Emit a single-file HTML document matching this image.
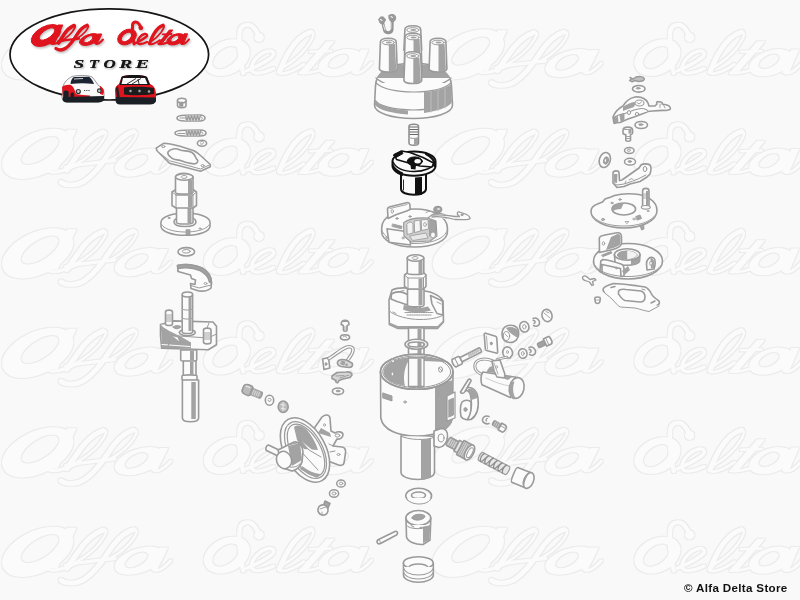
<!DOCTYPE html>
<html><head><meta charset="utf-8">
<style>
html,body{margin:0;padding:0;}
body{width:800px;height:600px;overflow:hidden;background:#f9f9f9;position:relative;font-family:"Liberation Sans",sans-serif;}
svg{position:absolute;left:0;top:0;}
.sh{fill:#a3a3a3;}
.dk{fill:#111;stroke:#111;}
.copy{position:absolute;left:684px;top:581px;font-size:11.6px;font-weight:bold;color:#111;white-space:nowrap;letter-spacing:0.33px;}
</style></head><body>
<svg width="800" height="600" viewBox="0 0 800 600">
<defs>
<g id="script"><g id="scriptF" fill-rule="evenodd"><path d="M60.13,27.99 A16,9 -28 1 1 31.87,43.01 A16,9 -28 1 1 60.13,27.99 Z M54.37,28.84 A9.0,4.0 -35 1 0 39.63,39.16 A9.0,4.0 -35 1 0 54.37,28.84 Z"/><path d="M58.00,25 L62.80,25 L55.00,42.5 L50.50,42.5 Z"/><path d="M99.37,35.91 A10.5,5 -20 1 1 79.63,43.09 A10.5,5 -20 1 1 99.37,35.91 Z M92.63,36.70 A5.0,2.5 -30 1 0 83.97,41.70 A5.0,2.5 -30 1 0 92.63,36.70 Z"/><path d="M98.00,34 L101.80,34 L97.50,43 L94.30,43 Z"/><path d="M135.66,32.00 A10,7 -30 1 1 118.34,42.00 A10,7 -30 1 1 135.66,32.00 Z M131.10,33.14 A6.0,3.6 -40 1 0 121.90,40.86 A6.0,3.6 -40 1 0 131.10,33.14 Z"/><path d="M184.44,36.12 A9.3,5 -20 1 1 166.96,42.48 A9.3,5 -20 1 1 184.44,36.12 Z M178.61,36.50 A4.4,2.4 -30 1 0 170.99,40.90 A4.4,2.4 -30 1 0 178.61,36.50 Z"/><path d="M184.00,33.8 L187.60,33.8 L183.60,43.5 L180.40,43.5 Z"/><path d="M169.30,30 L172.80,30 L161.50,44 L157.80,44 Z"/><path d="M142.70,27.80 A1.9,1.9 0 1 1 138.90,27.80 A1.9,1.9 0 1 1 142.70,27.80 Z"/></g>
<g id="scriptS" fill="none" stroke-linecap="round" stroke-linejoin="round"><path d="M51,43.5 C54,45 60,42 64,40" stroke-width="2.20"/><path d="M74,25.5 C70,27 66,31 63,36 C61,39 59.5,41.5 58.5,43" stroke-width="3.60"/><path d="M62,40.5 C66,38 70,35 72.5,31.5 C74.5,28.5 76.5,25.5 74.5,25.5" stroke-width="1.70"/><path d="M58,41.5 C65,40 72,39.5 79,38.5" stroke-width="2.40"/><path d="M87,25.3 C83,26.5 79,31 76,36 C73,41 70,45 66,48 C62,50.5 58,50 56,48.5" stroke-width="3.40"/><path d="M76,39 C80,37 83,34.5 85.5,31.5 C87.5,29 89.5,25.5 87.5,25.3" stroke-width="1.70"/><path d="M95.5,43.5 C97,45 100,43 103,39.5" stroke-width="2.00"/><path d="M134,44 C132.5,38 132,30 132.5,25 C133,21.5 137,21 139,24 C140,25.5 140.5,26.5 140.8,27.8" stroke-width="3.00"/><path d="M135.5,43 C139,41.5 143.5,39 146,37 C148,35.5 147,33.5 144.5,34 C140.5,35 137.5,39.5 137.5,42 C137.5,45 142,44.5 147,42" stroke-width="2.40"/><path d="M163,25.3 C159,26.5 156,30 153.5,34.5 C151.5,38 150.5,41 149.5,43.5" stroke-width="3.40"/><path d="M151,41.5 C155,39 158.5,36 161,32.5 C163,29.5 165.5,25.5 163,25.3" stroke-width="1.70"/><path d="M149.5,44 C152,45 156,43 160,40" stroke-width="2.00"/><path d="M162.7,34.3 L171.6,34" stroke-width="1.80"/><path d="M158.5,44 C161,44.5 165,43.5 169,42" stroke-width="2.00"/><path d="M181.5,43.8 C183.5,45 186,43 189,39.3" stroke-width="2.00"/></g>
</g>
<g id="scriptT"><g id="scriptFT" fill-rule="evenodd"><path d="M60.13,27.99 A16,9 -28 1 1 31.87,43.01 A16,9 -28 1 1 60.13,27.99 Z M55.36,28.15 A10.2,4.96 -35 1 0 38.64,39.85 A10.2,4.96 -35 1 0 55.36,28.15 Z"/><path d="M58.91,25 L61.89,25 L54.15,42.5 L51.35,42.5 Z"/><path d="M99.37,35.91 A10.5,5 -20 1 1 79.63,43.09 A10.5,5 -20 1 1 99.37,35.91 Z M93.67,36.10 A6.2,3.46 -30 1 0 82.93,42.30 A6.2,3.46 -30 1 0 93.67,36.10 Z"/><path d="M98.72,34 L101.08,34 L96.89,43 L94.91,43 Z"/><path d="M135.66,32.00 A10,7 -30 1 1 118.34,42.00 A10,7 -30 1 1 135.66,32.00 Z M132.02,32.37 A7.2,4.5600000000000005 -40 1 0 120.98,41.63 A7.2,4.5600000000000005 -40 1 0 132.02,32.37 Z"/><path d="M184.44,36.12 A9.3,5 -20 1 1 166.96,42.48 A9.3,5 -20 1 1 184.44,36.12 Z M179.65,35.90 A5.6000000000000005,3.36 -30 1 0 169.95,41.50 A5.6000000000000005,3.36 -30 1 0 179.65,35.90 Z"/><path d="M184.68,33.8 L186.92,33.8 L182.99,43.5 L181.01,43.5 Z"/><path d="M169.97,30 L172.14,30 L160.80,44 L158.50,44 Z"/><path d="M142.32,27.80 A1.52,1.52 0 1 1 139.28,27.80 A1.52,1.52 0 1 1 142.32,27.80 Z"/></g>
<g id="scriptST" fill="none" stroke-linecap="round" stroke-linejoin="round"><path d="M51,43.5 C54,45 60,42 64,40" stroke-width="1.36"/><path d="M74,25.5 C70,27 66,31 63,36 C61,39 59.5,41.5 58.5,43" stroke-width="2.23"/><path d="M62,40.5 C66,38 70,35 72.5,31.5 C74.5,28.5 76.5,25.5 74.5,25.5" stroke-width="1.05"/><path d="M58,41.5 C65,40 72,39.5 79,38.5" stroke-width="1.49"/><path d="M87,25.3 C83,26.5 79,31 76,36 C73,41 70,45 66,48 C62,50.5 58,50 56,48.5" stroke-width="2.11"/><path d="M76,39 C80,37 83,34.5 85.5,31.5 C87.5,29 89.5,25.5 87.5,25.3" stroke-width="1.05"/><path d="M95.5,43.5 C97,45 100,43 103,39.5" stroke-width="1.24"/><path d="M134,44 C132.5,38 132,30 132.5,25 C133,21.5 137,21 139,24 C140,25.5 140.5,26.5 140.8,27.8" stroke-width="1.86"/><path d="M135.5,43 C139,41.5 143.5,39 146,37 C148,35.5 147,33.5 144.5,34 C140.5,35 137.5,39.5 137.5,42 C137.5,45 142,44.5 147,42" stroke-width="1.49"/><path d="M163,25.3 C159,26.5 156,30 153.5,34.5 C151.5,38 150.5,41 149.5,43.5" stroke-width="2.11"/><path d="M151,41.5 C155,39 158.5,36 161,32.5 C163,29.5 165.5,25.5 163,25.3" stroke-width="1.05"/><path d="M149.5,44 C152,45 156,43 160,40" stroke-width="1.24"/><path d="M162.7,34.3 L171.6,34" stroke-width="1.12"/><path d="M158.5,44 C161,44.5 165,43.5 169,42" stroke-width="1.24"/><path d="M181.5,43.8 C183.5,45 186,43 189,39.3" stroke-width="1.24"/></g>
</g>
<filter id="sh" x="-10%" y="-10%" width="130%" height="140%"><feGaussianBlur stdDeviation="0.8"/></filter>
<filter id="ol" x="-5%" y="-5%" width="110%" height="110%"><feMorphology in="SourceAlpha" operator="dilate" radius="1" result="d"/><feComposite in="d" in2="SourceAlpha" operator="out" result="o"/><feFlood flood-color="#ebebeb"/><feComposite in2="o" operator="in" result="oo"/><feFlood flood-color="#fbfbfb"/><feComposite in2="SourceAlpha" operator="in"/><feMerge><feMergeNode/><feMergeNode in="oo"/></feMerge></filter>
</defs>
<g id="wmark" filter="url(#ol)"><use href="#scriptT" fill="#000" stroke="#000" transform="translate(-69.7,-23.4) scale(2.335,2.19)"/><use href="#scriptT" fill="#000" stroke="#000" transform="translate(360.9,-23.4) scale(2.335,2.19)"/><use href="#scriptT" fill="#000" stroke="#000" transform="translate(-69.7,76.1) scale(2.335,2.19)"/><use href="#scriptT" fill="#000" stroke="#000" transform="translate(360.9,76.1) scale(2.335,2.19)"/><use href="#scriptT" fill="#000" stroke="#000" transform="translate(-69.7,175.6) scale(2.335,2.19)"/><use href="#scriptT" fill="#000" stroke="#000" transform="translate(360.9,175.6) scale(2.335,2.19)"/><use href="#scriptT" fill="#000" stroke="#000" transform="translate(-69.7,275.1) scale(2.335,2.19)"/><use href="#scriptT" fill="#000" stroke="#000" transform="translate(360.9,275.1) scale(2.335,2.19)"/><use href="#scriptT" fill="#000" stroke="#000" transform="translate(-69.7,374.6) scale(2.335,2.19)"/><use href="#scriptT" fill="#000" stroke="#000" transform="translate(360.9,374.6) scale(2.335,2.19)"/><use href="#scriptT" fill="#000" stroke="#000" transform="translate(-69.7,474.1) scale(2.335,2.19)"/><use href="#scriptT" fill="#000" stroke="#000" transform="translate(360.9,474.1) scale(2.335,2.19)"/></g>

<g id="logo">
<ellipse cx="109.3" cy="54.4" rx="99.3" ry="45.6" fill="#fff" stroke="#151515" stroke-width="1.7"/>
<use href="#script" fill="#aaa" stroke="#aaa" transform="translate(1,1.5)" filter="url(#sh)" opacity="0.8"/>
<use href="#script" fill="#e0141e" stroke="#e0141e"/>
<g id="store" font-family="Liberation Serif" font-weight="bold" font-style="italic" font-size="11.6">
<text x="73.6" y="67.6" textLength="10.8" lengthAdjust="spacingAndGlyphs">S</text>
<text x="89" y="67.6" textLength="10" lengthAdjust="spacingAndGlyphs">T</text>
<text x="103.5" y="67.6" textLength="12.2" lengthAdjust="spacingAndGlyphs">O</text>
<text x="119.3" y="67.6" textLength="13" lengthAdjust="spacingAndGlyphs">R</text>
<text x="135.6" y="67.6" textLength="13.6" lengthAdjust="spacingAndGlyphs">E</text>
</g>
<use href="#store" fill="#999" transform="translate(0.8,1)" filter="url(#sh)"/>
<use href="#store" fill="#151515"/>
<g id="car1">
<path d="M63,87 C64,82 68,78.5 72,76.5 C78,75 88,75 92,77 C95,80 97,84 99,86 C102,87 104,89 104,93 L104,99 C103,101 100,102 96,102 L68,102 C64,102 62,100 62,96 Z" fill="#fafafa" stroke="#555" stroke-width="0.6"/>
<path d="M70.5,84 C71,80 72,78 74,77 L89,76.8 C91,78 93,81 94,84 C86,83 78,83 70.5,84 Z" fill="#1b2430"/>
<path d="M74,79 L83,78.5" stroke="#fff" stroke-width="0.8"/>
<path d="M62,87 C64,85 68,84.5 71,85 C74,87 75,91 76,94 C80,95 86,95 90,95.5 L90,97.5 L75,97.5 C73,97.5 72,96 71,94 L71,98 L63,98 Z" fill="#e0141e"/>
<path d="M100,86 C102,87 104,89 104,92 L103,95 L100,94 Z" fill="#e0141e"/>
<path d="M63,97 L104,96 L104,100 C103,102 100,102.5 96,102.5 L68,102.5 C64,102.5 62.5,101 62.5,99 Z" fill="#1a1f26"/>
<circle cx="78.3" cy="91.5" r="2.6" fill="#333"/>
<circle cx="78.3" cy="91.5" r="1.4" fill="#ccc"/>
<circle cx="99.3" cy="90.7" r="2.4" fill="#333"/>
<circle cx="99.3" cy="90.7" r="1.2" fill="#ccc"/>
<path d="M84,90.5 h6" stroke="#444" stroke-width="1" stroke-dasharray="1.2,1"/>
<rect x="63.6" y="90.5" width="5" height="11" rx="2" fill="#1a1f26"/>
<rect x="70.5" y="92.5" width="3.6" height="9.5" rx="1.5" fill="#1a1f26"/>
</g>
<g id="car2">
<path d="M121.5,77 C123,75.5 128,75 134,75 C140,75 145,75.5 147,77 L150,84 C153,85 156,88 156,94 L156,101 C155,103 153,104 150,104 L120,104 C117,104 115.5,102 115.5,99 L115,90 C115,87 117,85 119,84 Z" fill="#e0141e"/>
<path d="M121.5,77 C123,75.5 128,75 134,75 C140,75 145,75.5 147,77 L150,85 L119.5,85 Z" fill="#151515"/>
<path d="M123,78 L145,78 L147.5,84 L121.5,84 Z" fill="#fafafa"/>
<path d="M127,84 L136,78.5 M132,84 L141,78.5 M138,79 L139,84" stroke="#222" stroke-width="0.9"/>
<path d="M124,87.5 C130,86.5 146,86.5 154,88 L154,94 C146,95.5 131,95.5 124,94.5 Z" fill="#1c1c1c"/>
<circle cx="130.5" cy="91" r="2.3" fill="#222"/><circle cx="130.5" cy="91" r="1.2" fill="#aaa"/>
<circle cx="139.5" cy="91" r="2.3" fill="#222"/><circle cx="139.5" cy="91" r="1.2" fill="#aaa"/>
<circle cx="149" cy="91.5" r="2.3" fill="#222"/><circle cx="149" cy="91.5" r="1.2" fill="#aaa"/>
<path d="M116,97 L156,97.5 L156,101 C155,103.5 153,104.5 150,104.5 L120,104.5 C117,104.5 115.5,102.5 115.5,100 Z" fill="#1a1f26"/>
<path d="M116,88 L118,86 L120,99 L117,99 Z" fill="#222"/>
</g>

</g>
<g id="parts" fill="#fbfbfb" stroke="#9a9a9a" stroke-width="1.6" stroke-linejoin="round" stroke-linecap="round">
<!-- Zone A left column -->
<!-- bushing -->
<path d="M177.5,100.5 L177.5,105.5 C177.5,108.5 186,108.5 186,105.5 L186,100.5"/>
<ellipse cx="181.8" cy="100.5" rx="4.3" ry="2.3"/>
<path d="M180,102.5 h2.5 v3.5 h-2.5 z" class="sh"/>
<!-- spring 1 -->
<path d="M177,118 C177,115.5 181,115.3 185,115.2 L200,115 C203,115 205,116.5 205,118 C205,119.5 203,121 200,121 L185,121 C181,121 177,120.5 177,118 Z"/>
<path d="M185,115.5 L200,115.3 L200,120.7 L185,120.7 Z" fill="#cfcfcf" stroke="none"/>
<path d="M185.5,115.5 l1.5,5 l1.5,-5 l1.5,5 l1.5,-5 l1.5,5 l1.5,-5 l1.5,5 l1.5,-5 l1.5,5 l1.5,-5" fill="none" stroke-width="1.1"/>
<path d="M180,118 h5 M201,117 c1.5,0 2,2 0.5,2.5" fill="none" stroke-width="1"/>
<!-- spring 2 -->
<path d="M175,133 C175,130.5 180,130.3 185,130.2 L200,130 C204,130 206,131.5 206,133 C206,134.5 204,136 200,136 L185,136 C180,136 175,135.5 175,133 Z"/>
<path d="M185.5,130.5 L200,130.3 L200,135.7 L185.5,135.7 Z" fill="#cfcfcf" stroke="none"/>
<path d="M186,130.5 l1.5,5 l1.5,-5 l1.5,5 l1.5,-5 l1.5,5 l1.5,-5 l1.5,5 l1.5,-5 l1.5,5 l1.5,-5" fill="none" stroke-width="1.1"/>
<path d="M178,133.5 h7 M201.5,132 c1.5,0 2,2 0.5,2.5" fill="none" stroke-width="1"/>
<!-- small washer -->
<ellipse cx="202" cy="143.3" rx="4.6" ry="3"/>
<path d="M200.5,142 c1,-1 3,-1 3,0.5 c0,1.5 -2,2 -3,1.5" stroke-width="1"/>
<!-- gasket plate -->
<path d="M156.2,148.2 L163.5,143.3 C168,143.5 175,145 180,146.2 L194,150.8 C197,152.5 199,154 200.5,155.5 L210.3,164.5 L210.3,166.8 L200.5,171.3 L186,167.5 L169.5,163.2 L157,150.8 Z"/>
<path d="M157,150.8 L169.5,160.8 L186,165 L200.5,169 L210.3,164.5" stroke-width="1"/>
<path d="M168,152 C170,148.5 176,148 180,150 C184,151.5 188,150 192,152.5 C196,155 195,158 197,159.5 C199,161 197,164.5 193,163.8 C189,163 185,162.5 182,161 C178,159.5 173,160 171,157.5 C169,155.5 167,154.5 168,152 Z"/>
<ellipse cx="163.3" cy="146.6" rx="1.6" ry="1" stroke-width="1"/>
<ellipse cx="202.6" cy="165.6" rx="1.6" ry="1" stroke-width="1"/>
<!-- washer under gasket -->
<ellipse cx="183.5" cy="176.5" rx="7.5" ry="3.3"/>
<path d="M181,175.5 c1,-1 4,-1 4,0.8" stroke-width="1"/>
<!-- shaft with cam -->
<path d="M161,222.5 C161,217 172,213 185.5,213 C199,213 210,217 210,222.5 L210,226 C210,231.5 199,235.3 185.5,235.3 C172,235.3 161,231.5 161,226 Z"/>
<path d="M161,222.5 C161,228 172,232 185.5,232 C199,232 210,228 210,222.5" stroke-width="1"/>
<path d="M186,230 L186,235 L190,235 L190,230 Z" class="sh" stroke-width="0.8"/>
<ellipse cx="169" cy="218" rx="1" ry="0.7" stroke-width="0.9"/>
<ellipse cx="200" cy="228.5" rx="1" ry="0.7" stroke-width="0.9"/>
<path d="M174,222 C174,218.5 179,217 185,217 C191,217 196,218.5 196,222 C196,225 191,226.5 185,226.5 C179,226.5 174,225 174,222 Z"/>
<path d="M176.5,207 L176.5,222.5 C176.5,224.5 193,224.5 193,222.5 L193,207 Z"/>
<path d="M187.5,208 L187.5,223 L191.5,223 L191.5,208 Z" class="sh" stroke="none"/>
<path d="M172,192 L176,189.5 L193,189.5 L196.5,192 L196.5,205.5 L193,208 L176,208 L172,205.5 Z"/>
<path d="M176,195 L193,195 M176,195 L176,208 M193,195 L193,208 M172,192 L176,195 L193,195 L196.5,192" stroke-width="1"/>
<path d="M188,195.5 L188,207.5 L192.5,207.5 L192.5,195.5 Z" class="sh" stroke="none"/>
<path d="M175.5,177 L175.5,192.5 C175.5,194.5 193,194.5 193,192.5 L193,177 Z"/>
<ellipse cx="184.3" cy="177" rx="8.8" ry="3.3"/>
<path d="M181,177 c0,-2 6,-2 6,0 c0,1.5 -4,2 -5,1" stroke-width="1"/>
<path d="M188,180 L188,193 L192,193 L192,180 Z" class="sh" stroke="none"/>
<!-- washer -->
<ellipse cx="186.3" cy="251.8" rx="8.3" ry="4.2"/>
<ellipse cx="186.3" cy="251.3" rx="4" ry="1.8" stroke-width="1"/>
<!-- flyweight -->
<path d="M177.5,265.5 C185,263.5 195,264.5 202,268 C208,271.5 211.5,277 211.5,283 L211,288 C208.5,290.5 204,291.5 199,291 L191,288.5 L190.5,283.5 L195,284.5 L195.5,280 L191.5,278.5 L190.5,275 L178,271.5 Z"/>
<path d="M177.5,265.5 C185,263.5 195,264.5 202,268 C208,271.5 211.5,277 211.5,283 L209.5,282 C208.5,277 205,273 200,270.5 C193,267.5 185,267 178,268.5 Z" class="sh"/>
<path d="M178,268.5 L178,271.5 M191,285.5 L199,288 L211,285" stroke-width="1"/>
<ellipse cx="205.5" cy="283.5" rx="1.5" ry="1" stroke-width="0.9"/>
<!-- housing plate w/ studs -->
<path d="M160.5,324.5 L173.3,320.9 L213,322 L216.5,326.2 L216.5,344.8 L208.3,349.8 L161.7,348.3 L160.5,336 Z"/>
<path d="M160.5,324.5 C162,330 166,334 172,335.5 L208,338 L216.5,334" stroke-width="1"/>
<path d="M160.8,325 C165,329 172,332.5 180,336 L191,342.5 L191,348.5 L162,348 Z" class="sh" stroke="none"/>
<path d="M162,344.5 L190,346.5" stroke="#fbfbfb" stroke-width="1.2"/>
<path d="M172,335.5 L178,337 L180,342" stroke-width="1"/>
<path d="M165.5,312 L165.5,324 C165.5,326 172.5,326 172.5,324 L172.5,312 C172.5,309.5 165.5,309.5 165.5,312 Z"/>
<path d="M166.5,315 h5 M166.5,317 h5 M166.5,319 h5 M166.5,321 h5" stroke-width="0.9"/>
<path d="M203.5,330 L203.5,342 C203.5,344.5 211,344.5 211,342 L211,330 C211,327.5 203.5,327.5 203.5,330 Z"/>
<path d="M204.5,333 h5.5 M204.5,335 h5.5 M204.5,337 h5.5 M204.5,339 h5.5" stroke-width="0.9"/>
<path d="M209,323 L207,328" stroke-width="1"/>
<path d="M170,341 L168,346" stroke-width="1"/>
<ellipse cx="187.3" cy="332.5" rx="8" ry="3.3"/>
<path d="M182.2,295 L182.2,332 C182.2,334 192.6,334 192.6,332 L192.6,295 Z"/>
<ellipse cx="187.4" cy="294.5" rx="5.2" ry="2.5"/>
<path d="M182.2,309 C182.2,310.5 192.6,310.5 192.6,309 M182.2,318 C182.2,319.5 192.6,319.5 192.6,318" stroke-width="1"/>
<path d="M188.5,297 L188.5,331 L191.5,331 L191.5,297 Z" class="sh" stroke="none"/>
<path d="M173,327 C175,325 180,325 181,327 C179,329 175,330 173,327 Z" class="sh" stroke-width="0.8"/>
<!-- lower shaft -->
<path d="M180.7,350 L180.7,360 C180.7,362 196.7,362 196.7,360 L196.7,350 Z"/>
<path d="M183.3,361 L183.3,376 L196,376 L196,361 Z"/>
<path d="M182,376 L182,379.5 C182,381 197,381 197,379.5 L197,376 C197,374.5 182,374.5 182,376 Z"/>
<path d="M182.4,380 L182.4,418 C182.4,423 198.6,423 198.6,418 L198.6,380 Z"/>
<path d="M190,351 L190,360 L194,360 L194,351 Z" class="sh" stroke="none"/>
<path d="M190,362 L190,375 L193.5,375 L193.5,362 Z" class="sh" stroke="none"/>
<path d="M191.3,382 L191.3,419 L195.8,419 L195.8,382 Z" class="sh" stroke="none"/>
<!-- Zone B center column -->
<!-- clip -->
<path d="M382.5,22 L384.5,30 C385.5,33.5 391,33.5 392,30 L392.3,19" fill="none" stroke="#959595" stroke-width="3"/>
<path d="M383.5,25 L385,30" fill="none" stroke="#f4f4f4" stroke-width="0.9"/>
<path d="M391,23 L390.8,29" fill="none" stroke="#f4f4f4" stroke-width="0.9"/>
<path d="M379,19.5 C379,17 382,16 384,17.5 L385.5,19.5 C385,22.5 383,24 381,23.5 C379.5,23 379,21 379,19.5 Z" fill="#999" stroke="#959595" stroke-width="1"/>
<path d="M389,15.5 C390,14 393.5,14 395,15.5 C396.5,17.5 395.5,21 393,22 L390.5,21 C389,19.5 388.5,17 389,15.5 Z" fill="#999" stroke="#959595" stroke-width="1"/>
<path d="M380.5,19.5 L382,20.5 M391,16.5 L392.5,17.5" stroke="#f0f0f0" stroke-width="1.1"/>
<!-- distributor cap body -->
<path d="M375.5,86 C375.5,72 392,63 413.5,63 C435,63 451.5,72 451.5,86 L452.5,105 C452.5,113 435,118.5 413.5,118.5 C392,118.5 374.5,113 374.5,105 Z"/>
<path d="M377,79 C380,68 395,64 413.5,64 C432,64 447,68 450,79 C446,84 432,87 413.5,87 C395,87 381,84 377,79 Z" class="sh" stroke="none"/>
<path d="M376,78 C384,85 398,88 413.5,88 C429,88 443,85 451,78" stroke-width="1.2"/>
<path d="M376,83 C383,89 398,92 413.5,92 C429,92 444,89 451,83" stroke-width="1.1"/>
<path d="M374.7,99.5 C378,106 394,110 413.5,110 C433,110 449,106 452.3,99.5" stroke-width="1.2"/>
<path d="M424,92 L424,113 C437,111 447,108 451.5,103 L451.5,84 C446,88 436,91 424,92 Z" class="sh" stroke="none"/>
<path d="M375,100 C379,106 392,109.5 408,110.5 L408,114.5 C392,113.5 379,110 375,105 Z" class="sh" stroke="none"/>
<path d="M431,91.5 L431,112 M438,90 L438,110.5 M445,87.5 L445,108" stroke-width="1" stroke="#bdbdbd"/>
<!-- towers -->
<path d="M404.90000000000003,29.5 C404.90000000000003,24.5 420.7,24.5 420.7,29.5 L421.7,50 C420.7,54 404.90000000000003,54 403.90000000000003,50 Z"/>
<ellipse cx="412.8" cy="30.0" rx="6.1000000000000005" ry="2.3" stroke-width="1"/>
<ellipse cx="413.3" cy="30.0" rx="3" ry="1.1" class="sh" stroke="none"/>
<path d="M405.1,37 C405.1,32 420.9,32 420.9,37 L421.9,72 C420.9,76 405.1,76 404.1,72 Z"/>
<path d="M413.5,39 L413.5,74.8 C417,74.8 420,74 420.9,72 L419.59999999999997,39 Z" class="sh" stroke="none"/>
<ellipse cx="413" cy="37.5" rx="6.1000000000000005" ry="2.3" stroke-width="1"/>
<ellipse cx="413.5" cy="37.5" rx="3" ry="1.1" class="sh" stroke="none"/>
<path d="M380.40000000000003,42 C380.40000000000003,37 396.2,37 396.2,42 L397.2,69 C396.2,73 380.40000000000003,73 379.40000000000003,69 Z"/>
<path d="M388.8,44 L388.8,71.8 C392.3,71.8 395.3,71 396.2,69 L394.9,44 Z" class="sh" stroke="none"/>
<ellipse cx="388.3" cy="42.5" rx="6.1000000000000005" ry="2.3" stroke-width="1"/>
<ellipse cx="388.8" cy="42.5" rx="3" ry="1.1" class="sh" stroke="none"/>
<path d="M430.1,42 C430.1,37 445.9,37 445.9,42 L446.9,69 C445.9,73 430.1,73 429.1,69 Z"/>
<path d="M438.5,44 L438.5,71.8 C442,71.8 445,71 445.9,69 L444.59999999999997,44 Z" class="sh" stroke="none"/>
<ellipse cx="438" cy="42.5" rx="6.1000000000000005" ry="2.3" stroke-width="1"/>
<ellipse cx="438.5" cy="42.5" rx="3" ry="1.1" class="sh" stroke="none"/>
<path d="M404.90000000000003,55.5 C404.90000000000003,50.5 420.7,50.5 420.7,55.5 L421.7,80.5 C420.7,84.5 404.90000000000003,84.5 403.90000000000003,80.5 Z"/>
<path d="M413.3,57.5 L413.3,83.3 C416.8,83.3 419.8,82.5 420.7,80.5 L419.4,57.5 Z" class="sh" stroke="none"/>
<ellipse cx="412.8" cy="56.0" rx="6.1000000000000005" ry="2.3" stroke-width="1"/>
<ellipse cx="413.3" cy="56.0" rx="3" ry="1.1" class="sh" stroke="none"/>
<!-- carbon brush + spring -->
<path d="M409,126 L409,143 C409,146 418.5,146 418.5,143 L418.5,126 C418.5,123.5 409,123.5 409,126 Z" stroke="#8a8a8a" stroke-width="1.5"/>
<path d="M410,127 h7.5 M410,129.5 h7.5 M410,132 h7.5 M410,134.5 h7.5" stroke="#666" stroke-width="1.2"/>
<path d="M409,137 C409,139 418.5,139 418.5,137" stroke-width="1"/>
<path d="M414,138.5 L414,145 L418,144 L418,138 Z" class="sh" stroke="none"/>
<!-- rotor (black) -->
<g stroke="#111" stroke-width="2">
<path d="M401,174 L401,189 C401,196.5 426,196.5 426,189 L426,174 Z" fill="#fafafa"/>
<path d="M415,177.5 L415,195.3 C418,195.3 421,195 422,194.7 L422,177 Z" fill="#111" stroke="none"/>
<path d="M403.5,180 L403.5,190" stroke-width="0.9"/>
<path d="M392.5,161 C392.5,155.8 402,151.5 414,151.5 C426,151.5 435.5,155.8 435.5,161 L435.5,166 C435.5,171.5 426,175.8 414,175.8 C402,175.8 392.5,171.5 392.5,166 Z" fill="#fafafa"/>
<path d="M392.5,160 C392.5,166 397,170 403,172.5 L403,176 C397,174.5 392.5,171 392.5,166 Z" fill="#111" stroke="none"/>
<path d="M393,162 C396,168 404,171.5 414,171.5 C424,171.5 433,168 435.5,162" fill="none" stroke-width="1.5"/>
<path d="M426,154 C431,156.5 435,160 434.5,166" fill="none" stroke-width="2.2"/>
<path d="M394.5,154.5 L401.5,151 L410,152.5 L423,157.5 L433.5,163 L432,167 L420,166 L407,162.5 L396.5,159.5 Z" fill="#fafafa" stroke-width="1.5"/>
<path d="M393.5,155 L401.5,151.2 L403,153.5 L396,157.5 Z" fill="#111" stroke-width="1"/>
<ellipse cx="414.8" cy="161.3" rx="7.6" ry="4.4" fill="#111" stroke-width="1"/>
<ellipse cx="417.6" cy="161.2" rx="3.2" ry="2.2" fill="#fafafa" stroke="none"/>
<path d="M410.5,165 L416,165 L415.5,169.5 L411,169 Z" fill="#111" stroke="none"/>
</g>
<!-- breaker plate -->
<path d="M381.7,228 C381.7,217 396,209 414.5,209 C433,209 447.4,217 447.4,228 L447.4,232 C447.4,241 433,247 414.5,247 C396,247 381.7,241 381.7,232 Z"/>
<path d="M381.9,230 C384,238.5 397,243.5 414.5,243.5 C432,243.5 445.5,238.5 447.2,230" stroke-width="1"/>
<path d="M388,218.4 L387.5,209 C387.5,207.5 389,207 391,206.5 L406.5,202.7 C408.5,202.3 410,203.3 410,205.5 L410,209.5 L406.7,211 L396.5,214.6 Z"/>
<ellipse cx="392.3" cy="211.3" rx="1.2" ry="1.8" stroke-width="0.9"/>
<path d="M390,208.5 L407,204.5" stroke-width="0.9"/>
<ellipse cx="397" cy="218.5" rx="1.3" ry="0.8" class="sh" stroke-width="0.7"/>
<ellipse cx="410" cy="216.5" rx="1.3" ry="0.8" class="sh" stroke-width="0.7"/>
<path d="M387,228.8 L409.5,232 L410.5,245 L389,242.3 Z"/>
<ellipse cx="403" cy="238" rx="1.2" ry="0.9" stroke-width="0.8"/>
<path d="M392.8,224 L402,226.3 L401.5,228.8 L392.3,226.5 Z" class="sh" stroke-width="0.8"/>
<path d="M403.5,223 C407,219.5 417,217.5 428,218 L436,221 L437,236 L430,241 L411,242 L404,236 Z" fill="#cfcfcf" stroke-width="1.1"/>
<path d="M407,224 C409,221.5 412,221.5 413,224 L413,233 L407.5,234.5 Z" fill="#f2f2f2" stroke-width="0.9"/>
<path d="M414.5,221 L420,220 L420.5,231 L415,232.5 Z" fill="#f5f5f5" stroke-width="0.9"/>
<path d="M421.5,219.8 L428,219.5 L428.5,229 L422,230.5 Z" fill="#f5f5f5" stroke-width="0.9"/>
<ellipse cx="425" cy="224.5" rx="1.4" ry="2" stroke-width="0.8"/>
<path d="M429.5,220 L435.5,221.5 L436,234 L430,236 Z" class="sh" stroke-width="0.9"/>
<path d="M410,236 L426,233 L428,238 L413,240.5 Z" fill="#e8e8e8" stroke-width="0.8"/>
<ellipse cx="433" cy="235" rx="2.5" ry="3" stroke-width="0.9"/>
<path d="M428,218 C432,214 436,213 441,213.5 C445,214 447,216 446,218.5" stroke-width="1.1"/>
<ellipse cx="437.8" cy="209.5" rx="4" ry="3.2" fill="#a0a0a0" stroke-width="1.2"/>
<ellipse cx="438.5" cy="209" rx="1.6" ry="1.1" fill="#ddd" stroke="none"/>
<path d="M426,212.5 C430,210 433,212 434,214" stroke-width="1"/>
<path d="M432,217 C440,216 448,217.5 455,219.5 L463,219.7 C467,219.6 470.5,219.5 470,218 C469.5,216 467,214.5 464,213.5 L459.5,212 C457.5,211.5 456.5,213.5 458,215 L459.5,216.5 L455,216.5 C448,215 440,214.5 432,215" stroke-width="1.3"/>
<ellipse cx="462" cy="214.8" rx="1.2" ry="1" class="sh" stroke-width="0.7"/>
<ellipse cx="386" cy="238" rx="1.2" ry="1" stroke-width="0.8"/>
<!-- shaft with cam + weight plate -->
<path d="M389,300 L392,290 C396,288 404,287.5 412,288.5 L430,292 C436,294 441,297 443,301 L443.5,322 L437.5,328.5 L398,328.5 L389.3,324.5 Z"/>
<path d="M389.5,322.5 L398,326 L437.5,326 L443.3,320.5 L443.3,322.5 L437.5,328.5 L398,328.5 L389.3,324.5 Z" class="sh" stroke="none"/>
<path d="M389.3,311 C395,316 408,319.5 420,319.5 C430,319.5 438,318 443.3,315" stroke-width="1"/>
<path d="M391.5,294 C397,290.5 404,292 410,296 C414,299 418,302.5 421,305.5 L419,309 C413,307 404,303.5 397,301.5 L391,299 Z"/>
<path d="M393,293 L404,290.5" stroke-width="1"/>
<path d="M430.5,295.5 L442.5,301 L443,315 L437,313.5 L432,304 Z"/>
<path d="M437,302 L441,304" stroke-width="0.9"/>
<path d="M404,304.5 C410,308 420,309 428,306.5 L431,310.5 C421,313.5 410,313 403,309.5 Z" class="sh" stroke="none"/>
<path d="M405,312.5 h28 M407,315 h24" stroke-width="1" stroke-dasharray="1.4,0.9"/>
<path d="M393,312 L396,313.5" stroke-width="0.9"/>
<path d="M407.5,289 L407.5,305 C407.5,307.5 424,307.5 424,305 L424,289 Z"/>
<path d="M418.5,290 L418.5,305.5 L422.5,305 L422.5,290 Z" class="sh" stroke="none"/>
<path d="M404.5,275 L408,272.5 L423.5,272.5 L426,275 L426,286.5 L423.5,289 L408,289 L404.5,286.5 Z"/>
<path d="M404.5,275 L408,278 L423.5,278 L426,275 M408,278 L408,289 M423.5,278 L423.5,289" stroke-width="1"/>
<path d="M418.5,278.5 L418.5,288.5 L422.5,288.5 L422.5,278.5 Z" class="sh" stroke="none"/>
<path d="M407.3,258 L407.3,273 C407.3,275 423.8,275 423.8,273 L423.8,258 Z"/>
<ellipse cx="415.5" cy="258" rx="8.3" ry="3.2"/>
<path d="M412,258 c0,-2 6,-2 6,0 c0,1.5 -4,2 -5,1" stroke-width="1"/>
<path d="M418.5,261 L418.5,274 L422.5,274 L422.5,261 Z" class="sh" stroke="none"/>
<!-- shaft between -->
<path d="M408.5,328 L408.5,386 L424,386 L424,328 Z"/>
<path d="M417.5,329 L417.5,386 L421.5,386 L421.5,329 Z" class="sh" stroke="none"/>
<path d="M405,344.3 C405,341.5 410,339.3 416.3,339.3 C422.6,339.3 427.7,341.5 427.7,344.3 C427.7,347.1 422.6,349.3 416.3,349.3 C410,349.3 405,347.1 405,344.3 Z M408,344.5 C408,343 412,342 416.3,342 C420.6,342 424.5,343 424.5,344.5 C424.5,346 420.6,347 416.3,347 C412,347 408,346 408,344.5 Z" fill-rule="evenodd"/>
<!-- housing body -->
<path d="M380.5,372 L380.8,418 C383,430 398,436 417,436 C436,436 450,430 452.5,418 L453,372 Z"/>
<path d="M435,386 L435,434 C443,432 450,427 452,420 L452.5,380 Z" class="sh" stroke="none"/>
<path d="M447,396 L455,392 L455,418 L447,421 Z" stroke-width="1.2"/>
<path d="M449,400 L453.5,398 L453.5,415 L449,417 Z" class="sh" stroke-width="0.8"/>
<path d="M383,393 L392,396 L392,401 L383,398 Z" class="sh" stroke-width="0.9"/>
<ellipse cx="405" cy="402" rx="1.3" ry="1" stroke-width="1"/>
<ellipse cx="440" cy="399" rx="0.8" ry="0.8" stroke-width="0.8"/>
<ellipse cx="416.7" cy="371.8" rx="36.3" ry="17.5"/>
<path d="M383.5,372 C383.5,364 394,358.5 408.5,357.2 L424,357 L424,360 L408.5,361 C404,368 403,378 405,386 C396,384.5 389,381.5 386,378 C384.5,376 383.5,374 383.5,372 Z" class="sh" stroke="none"/>
<path d="M424,357 C434,357.5 441,359 446,362 L424,361 Z" class="sh" stroke="none"/>
<path d="M395,369 C400,372 404,378 408.5,386.5 L400,385 C394,383 389,380 386,377 C388,372 391,369 395,369 Z" fill="#fbfbfb" stroke="none" opacity="0"/>
<path d="M408.5,358 L408.5,386.5 L424,386.5 L424,358 Z" stroke-width="1.3"/>
<path d="M417.5,359 L417.5,386 L421.5,386 L421.5,359 Z" class="sh" stroke="none"/>
<ellipse cx="392.5" cy="374" rx="1.5" ry="1.8" stroke-width="0.9"/>
<ellipse cx="440.5" cy="369.5" rx="2" ry="2.6" stroke-width="1"/>
<path d="M439,368 L442,371" stroke-width="0.8"/>
<ellipse cx="416.7" cy="371.8" rx="36.3" ry="17.5" fill="none"/>
<ellipse cx="416.7" cy="371.8" rx="34" ry="15.8" fill="none" stroke-width="1"/>
<path d="M393,358.5 L395,362 L392,363" stroke-width="1"/>
<!-- neck -->
<path d="M401,436 L401,472 C401,482 434.5,482 434.5,472 L434.5,436 C425,438 410,438 401,436 Z"/>
<path d="M421,438 L421,479.5 C426,479.5 430,478 431,476 L431,437.5 Z" class="sh" stroke="none"/>
<path d="M401,436 C407,440 428,441 434.5,437" stroke-width="1"/>
<path d="M434,431 L441,428.5 C446,428.5 448,432 447.5,437 C447,443 443,447.5 439,447.5 L434,446 Z"/>
<ellipse cx="441" cy="438" rx="3" ry="4" stroke-width="1"/>
<!-- thick washer -->
<path d="M405.8,495.8 C405.8,491.6 411.6,488.3 418.7,488.3 C425.8,488.3 431.6,491.6 431.6,495.8 C431.6,500 425.8,503.3 418.7,503.3 C411.6,503.3 405.8,500 405.8,495.8 Z M411.5,495.3 C411.5,493.4 414.7,492 418.5,492 C422.3,492 425.5,493.4 425.5,495.3 C425.5,497.2 422.3,498.6 418.5,498.6 C414.7,498.6 411.5,497.2 411.5,495.3 Z" fill-rule="evenodd"/>
<path d="M406.5,498 C408,502 414,504 419,504 C425,504 430,502 431,498" stroke-width="1"/>
<!-- coupling gear -->
<path d="M406,518 L406.5,537 C408,542 416,545 423,544.5 L430,540 L430.8,518 Z"/>
<ellipse cx="418.3" cy="518" rx="12.4" ry="7.5"/>
<path d="M412,518 C412,514 422,513 425,516 C425,520 414,522 412,518 Z" class="sh" stroke-width="1"/>
<path d="M406.2,525 C408,530 428,530 430.5,525" stroke-width="1"/>
<path d="M423,527 L423,543 L429,540 L430.5,525 Z" class="sh" stroke="none"/>
<path d="M411,525.5 L414,527 M420,527.5 L426,527" stroke-width="1"/>
<!-- pin -->
<path d="M378.5,539.5 L395,531.5 C397.5,530.5 398.5,533.5 396.5,535 L380.5,543.5 C377,545 376,541 378.5,539.5 Z"/>
<path d="M379,539.5 C380,541 380.5,542 380.5,543.5" stroke-width="1"/>
<!-- ring -->
<path d="M403.5,563 L403.5,575 C403.5,579 410,582.3 418.3,582.3 C426.6,582.3 433.3,579 433.3,575 L433.3,563 Z"/>
<ellipse cx="418.3" cy="563" rx="14.9" ry="6.3"/>
<ellipse cx="418.3" cy="567.5" rx="9.5" ry="3.5"/>
<path d="M403.5,567 C404,572 410,575 418.3,575 C426.6,575 433,572 433.3,567 M403.5,571 C404,576 410,579 418.3,579 C426.6,579 433,576 433.3,571" stroke-width="1.1"/>
<!-- Zone C: vacuum unit etc -->
<!-- screw top -->
<path d="M341.2,324.5 C341.2,319 349,319 349,324.5 L347.2,325.5 L347,330.5 C346,331.5 344.3,331.5 343.5,330.5 L343.3,325.5 Z"/>
<path d="M344,327 h2.5 M344,329 h2.5" stroke-width="0.9"/>
<path d="M343.5,321.5 L346.5,321.5" stroke-width="1"/>
<!-- lock washer -->
<ellipse cx="345" cy="337.3" rx="4.6" ry="2.6"/>
<path d="M343,337 C344,335.5 347,336 346.5,337.5" stroke-width="1"/>
<!-- wire strap -->
<path d="M322.6,359 L328.5,357.5 L329.8,368 L324,369.6 Z"/>
<ellipse cx="326" cy="364" rx="1" ry="1.5" class="sh" stroke-width="0.7"/>
<path d="M329,358.5 C335,355 340,350 346,347.5 C350,346 353.5,347 353,350.5 C352.5,354 350,357 348,359.5" fill="none" stroke-width="3.6"/>
<path d="M329,358.5 C335,355 340,350 346,347.5 C350,346 353.5,347 353,350.5 C352.5,354 350,357 348,359.5" fill="none" stroke="#fbfbfb" stroke-width="1.5"/>
<path d="M337.5,362 C338,359.5 342,359 346,360 L352,363 C353.5,365 352,367.5 349,367.5 L341,366.5 C338,365.5 337,364 337.5,362 Z" fill="#dadada"/>
<path d="M342,361 L345,362 L344,365 L341,364 Z M346.5,364 a1,0.8 0 1,0 0.1,0" class="sh" stroke-width="0.7"/>
<!-- clamp -->
<path d="M332,376 L337,372.5 L346,372 C350,371.5 352,373 352,375 L350,377.5 L343,379 L339,380.5 L338,382.5 C336.5,383 335,382 336,380.5 L332,378.5 Z" fill="#d5d5d5"/>
<path d="M336,376 L344,375.5 M340,378 L349,375" stroke-width="0.9"/>
<!-- washer -->
<ellipse cx="338" cy="391.3" rx="5.6" ry="3.3" stroke-width="1.6"/>
<ellipse cx="338" cy="391" rx="2" ry="0.9" class="sh" stroke-width="0.7"/>
<!-- screw tilted -->
<g transform="translate(243,388) rotate(22)">
<path d="M0,-2 C0,-5 4,-5.5 8,-5 L9,-4 L9,4 L8,5 C4,5.5 0,5 0,2 Z" fill="#bbbbbb"/>
<path d="M9,-3.2 L19,-3.2 C20.5,-3.2 20.5,3.2 19,3.2 L9,3.2 Z" fill="#b2b2b2"/>
<path d="M11,-3 v6 M13,-3 v6 M15,-3 v6 M17,-3 v6" stroke="#ddd" stroke-width="0.7"/>
<path d="M2,-3 L6,-3" stroke="#eee" stroke-width="1"/>
</g>
<!-- washer & nut -->
<ellipse cx="269.5" cy="400.2" rx="4.2" ry="5" stroke-width="1.6"/>
<path d="M268,399 C269,397.5 272,398.5 271,400.5 C270,402 268,401.5 268,400.5" stroke-width="1"/>
<ellipse cx="283.2" cy="406.7" rx="5" ry="5.7" fill="#bdbdbd" stroke-width="1.6"/>
<path d="M281,404.5 L285,405 M281.5,408.5 L285.5,409 M283,402.5 L283,411" stroke="#eee" stroke-width="0.9"/>
<!-- vacuum unit -->
<path d="M313,430 L322,417 C325,414.5 329,414 330,418 L331,431 L335,433 C338,431 342.5,431.5 343,434.5 C343,437.5 340,439.5 337,439 L333,446 L342,447 C345,447.5 346,450 345.5,453 L344,463 C343.5,465 341,466 338.5,465 L328,461 Z"/>
<path d="M318,433 L321,428 L330,433 L331,437 Z" class="sh" stroke="none"/>
<ellipse cx="324.5" cy="425" rx="1" ry="1.3" stroke-width="0.8"/>
<ellipse cx="337.5" cy="435.5" rx="2.3" ry="1.6" stroke-width="1"/>
<ellipse cx="338.5" cy="454.5" rx="1.5" ry="1" stroke-width="0.9"/>
<path d="M329,444 L333,446 M330,452 L335,451" stroke-width="1"/>
<ellipse cx="305" cy="450" rx="35" ry="20.5" transform="rotate(61 305 450)"/>
<ellipse cx="305.5" cy="450" rx="31" ry="16.8" transform="rotate(61 305.5 450)" stroke-width="1.2"/>
<ellipse cx="306" cy="450" rx="28.5" ry="14.5" transform="rotate(61 306 450)" stroke-width="1.2"/>
<path d="M294,427 C298,424 303,426 307,430 C312,436 316,443 318,450 L304,449 L297,440 Z" class="sh" stroke="none"/>
<path d="M302,466 C307,470 313,473 320,474 C320,476 318,477.5 316,477.5 C310,475 305,472 300,469 Z" class="sh" stroke="none"/>
<path d="M300,440 L309,450 L321,457 M297,447 L318,470" stroke-width="1"/>
<path d="M268.5,445 L281,451 L279,456.5 L266.5,450.5 C265,449.5 266.5,444.5 268.5,445 Z"/>
<path d="M278,450 L294,442 C299,441 303,446 303,452 L302,462 C301,466 297,470 292,471 L283,468 Z"/>
<path d="M288,446 L300,443 L302,460 L292,466 Z" class="sh" stroke="none"/>
<ellipse cx="284" cy="460" rx="7.5" ry="8.8" transform="rotate(-20 284 460)"/>
<path d="M288,445 L299,442.5 M290,467 C296,468 300,465 302,461" stroke-width="1"/>
<!-- washers below vacuum -->
<ellipse cx="341" cy="483.5" rx="4.3" ry="3.6" stroke-width="1.5"/>
<ellipse cx="341" cy="483.5" rx="1.8" ry="1.4" stroke-width="0.9"/>
<ellipse cx="334" cy="493.5" rx="4.6" ry="3.8" stroke-width="1.5"/>
<ellipse cx="334" cy="493.5" rx="2" ry="1.5" stroke-width="0.9"/>
<!-- screw bottom -->
<path d="M325,501 L330,503.5 L327.5,509 L323,507 Z" fill="#a5a5a5"/>
<ellipse cx="323" cy="510" rx="5" ry="5.2" transform="rotate(-30 323 510)"/>
<path d="M320,509 L326,507 M322,512 L322,514" stroke-width="0.9"/>
<!-- Zone D: condenser and hardware -->
<!-- long bolt -->
<g transform="translate(457.5,361.5) rotate(-27)">
<path d="M-4,-4.2 L3,-4.2 L4,-3 L4,3 L3,4.2 L-4,4.2 C-5.5,2 -5.5,-2 -4,-4.2 Z"/>
<path d="M-1,-4 L-1,4" stroke-width="1"/>
<path d="M4,-2.4 L25,-2.4 C26.5,-2.4 26.5,2.4 25,2.4 L4,2.4 Z"/>
<path d="M12,-1.5 L25,-1.5 L25,1 L12,1 Z" fill="#c8c8c8" stroke="none"/>
<path d="M13,-2.3 v4.6 M15,-2.3 v4.6 M17,-2.3 v4.6 M19,-2.3 v4.6 M21,-2.3 v4.6 M23,-2.3 v4.6" stroke="#b5b5b5" stroke-width="0.6"/>
</g>
<!-- square washer -->
<path d="M484.2,334 C484.5,333 485.5,333 486.5,333.5 L495.5,336.2 C496.5,336.5 496.8,337.5 496.8,338.5 L497.7,352 C497.7,353 497,353.5 496,353 L486.5,350.5 C485.5,350.2 485.3,349.5 485.3,348.5 Z" stroke-width="1.6"/>
<path d="M486.5,336 L487.5,349" stroke-width="0.8"/>
<ellipse cx="491.3" cy="343.5" rx="1.1" ry="1.4" class="sh" stroke-width="0.8"/>
<!-- big nut -->
<path d="M502,334.5 C502,328 506,325.2 510.5,325.2 C515.5,325.2 518.7,328 518.7,333.5 C518.7,339 515,342.5 510,342.5 C505.5,342.5 502,339.5 502,334.5 Z"/>
<path d="M506,328 C510,326 516,327 518,331 L518,338 C515,336 510,334 506,328 Z" class="sh" stroke="none"/>
<ellipse cx="506.5" cy="336" rx="3.2" ry="4.5" stroke-width="1"/>
<path d="M505,334 L508,337" stroke-width="0.8"/>
<!-- washers row 1 -->
<ellipse cx="524.3" cy="326.8" rx="4.6" ry="5.3" transform="rotate(-15 524.3 326.8)"/>
<ellipse cx="524.3" cy="326.8" rx="1.7" ry="2.2" stroke-width="0.9"/>
<path d="M533,318.5 C536.5,317 540,320 539.5,323.5 C539,326 536,327 533.5,325.5 M533.3,320.5 C535,320 536,322.5 534,323.5" fill="none" stroke-width="1.5"/>
<ellipse cx="547" cy="315.5" rx="5" ry="6.2" transform="rotate(-15 547 315.5)"/>
<path d="M544,313 L550,318 M546,311.5 L549,313" stroke-width="0.9"/>
<!-- terminal eyelet -->
<path d="M503,354 C502,349 505,346.5 508,347 C511,347.5 513,351 512.5,354.5 L510,358 L505,358 Z"/>
<ellipse cx="507.5" cy="352" rx="1" ry="1.5" stroke-width="0.8"/>
<!-- lower row: washer lockwasher screw -->
<ellipse cx="522.8" cy="353.5" rx="4.2" ry="4.8" transform="rotate(-15 522.8 353.5)"/>
<ellipse cx="522.8" cy="353.5" rx="1.4" ry="1.9" stroke-width="0.9"/>
<path d="M529,347.5 C532.5,346 536,349 535.5,352.5 C535,355 532,356 529.5,354.5 M529.3,349.5 C531,349 532,351.5 530,352.5" fill="none" stroke-width="1.5"/>
<g transform="translate(545,342.5) rotate(-25)">
<path d="M-7,-2.2 L0,-2.2 L0,2.2 L-7,2.2 C-8,2.2 -8,-2.2 -7,-2.2 Z" class="sh"/>
<path d="M0,-4 L5,-4 C7.5,-4 7.5,4 5,4 L0,4 Z"/>
<path d="M2.5,-4 L2.5,4" stroke-width="0.9"/>
</g>
<!-- condenser wire -->
<path d="M493,361 C486,358 478,358.5 475.5,363 C473.5,367.5 476,372 481,374" fill="none" stroke-width="3"/>
<path d="M493,361 C486,358 478,358.5 475.5,363 C473.5,367.5 476,372 481,374" fill="none" stroke="#fbfbfb" stroke-width="1.1"/>
<path d="M497,359.5 C501,358.5 504,358 507,357" fill="none" stroke-width="2.6"/>
<path d="M497,359.5 C501,358.5 504,358 507,357" fill="none" stroke="#fbfbfb" stroke-width="0.9"/>
<!-- condenser body -->
<path d="M483,372 L517.6,377.5 L510.3,397.6 L482,384.8 C480.5,381 480.5,375 483,372 Z"/>
<path d="M486,378 C494,382 503,385 510,386" stroke="#cfcfcf" stroke-width="1"/>
<ellipse cx="516.7" cy="388" rx="7.3" ry="10.5" transform="rotate(12 516.7 388)"/>
<path d="M511.5,382 C509,387 509,393 511.5,398 C513,399.5 515,399.5 516,398.5 C512.5,394 512.5,387 514.5,381.5 Z" class="sh" stroke="none"/>
<!-- condenser strap -->
<path d="M492,361 L500,360 L504.8,374 L504.5,378 L497,377 L494,371 Z"/>
<path d="M494,363 L498,374" stroke-width="0.8"/>
<ellipse cx="496.5" cy="367" rx="1" ry="1.3" stroke-width="0.8"/>
<path d="M486.5,372 C488,368 490.5,366 493,366 L495.5,373 Z" class="sh" stroke="none"/>
<path d="M504,375 L512,377 L508,380 L505,379 Z" class="sh" stroke="none"/>
<!-- C clip (housing side) -->
<path d="M462,402 C465,399.5 469,400 471,402 L471.5,418.5 C468,420.5 463,420 461,416.5 C460,411 460.5,405 462,402 Z"/>
<ellipse cx="465.5" cy="409.5" rx="1.6" ry="1.9" class="sh" stroke-width="0.9"/>
<path d="M466,388 C472,386 477,390 478,398 C479,407 478,415 471,419.5 L467.5,419.5 C471,414 472,405 471,398 C470.5,393 468.5,390.5 466,390.5 Z"/>
<path d="M468,389 C473,388 476.5,391 477.5,398 L471.3,400 C470.8,395 469.5,391.5 468,390.5 Z" class="sh" stroke="none"/>
<path d="M460.5,392 L468,380 C469,378.5 471.5,379 471,381 L465,391.5 C464,393.5 461,394 460.5,392 Z"/>
<!-- C-clip small -->
<path d="M489,416.5 C485,415 482,417.5 482.5,420.5 C483,423 486,424.5 489,423.5" fill="none" stroke-width="1.6"/>
<path d="M487.5,418.5 C486,418.5 485.5,420 486.5,421" fill="none" stroke-width="1.2"/>
<!-- small screw -->
<g transform="translate(500,426.5) rotate(30)">
<path d="M-7,-2.3 L0,-2.3 L0,2.3 L-7,2.3 C-8.2,2.3 -8.2,-2.3 -7,-2.3 Z" class="sh"/>
<path d="M-6,-2.3 v4.6 M-4,-2.3 v4.6 M-2,-2.3 v4.6" stroke="#ddd" stroke-width="0.6"/>
<path d="M0,-3.8 L4,-3.8 C7,-3.8 7,3.8 4,3.8 L0,3.8 Z"/>
<path d="M1,-1 L5,-1" stroke-width="0.9"/>
</g>
<!-- threaded fitting -->
<g transform="translate(462,448.5) rotate(28)">
<path d="M-15,-4.5 L-6,-4.5 L-6,4.5 L-15,4.5 C-16.5,4.5 -16.5,-4.5 -15,-4.5 Z" fill="#cfcfcf"/>
<path d="M-13,-4.5 v9 M-11,-4.5 v9 M-9,-4.5 v9" stroke="#999" stroke-width="0.7"/>
<path d="M-6,-6 L-2,-6 L-2,6 L-6,6 Z" fill="#e5e5e5"/>
<path d="M-2,-8 L8,-8 L8,8 L-2,8 Z" fill="#d2d2d2"/>
<path d="M0,-8 v16 M2,-8 v16 M4,-8 v16 M6,-8 v16" stroke="#999" stroke-width="0.7"/>
<ellipse cx="8.5" cy="0" rx="4" ry="8.2"/>
<ellipse cx="9" cy="0" rx="2.3" ry="5.5" stroke-width="1"/>
</g>
<!-- spring -->
<g transform="translate(494,463.5) rotate(28)">
<path d="M-15,-4.5 L15,-4.5 C17,-4.5 17,4.5 15,4.5 L-15,4.5 C-17,4.5 -17,-4.5 -15,-4.5 Z" fill="#e8e8e8" stroke-width="1.2"/>
<path d="M-13,-4.5 C-15,-2 -15,2 -13,4.5 C-10,4.5 -10,-4.5 -8,-4.5 C-10,-2 -10,2 -8,4.5 C-5,4.5 -5,-4.5 -3,-4.5 C-5,-2 -5,2 -3,4.5 C0,4.5 0,-4.5 2,-4.5 C0,-2 0,2 2,4.5 C5,4.5 5,-4.5 7,-4.5 C5,-2 5,2 7,4.5 C10,4.5 10,-4.5 12,-4.5 C10,-2 10,2 12,4.5" stroke="#8e8e8e" stroke-width="1.3" fill="none"/>
</g>
<!-- end cap -->
<g transform="translate(525,479) rotate(22)">
<path d="M-11,-8 L4,-8 L4,8 L-11,8 C-13,8 -13,-8 -11,-8 Z"/>
<ellipse cx="4" cy="0" rx="4.8" ry="8.3"/>
<path d="M1.5,-7.5 C0,-3 0,3 1.5,7.5" stroke-width="1"/>
</g>
<!-- Zone E: right column -->
<!-- spring clip -->
<path d="M630,77.5 L633,79 L636,77 C639,76 643.5,76.5 644.3,78.5 C645,80.5 642,81.5 638,81.5 L635,80.5 L632,81.8 L629.5,80.5 L631.5,79 Z" fill="#c0c0c0" stroke-width="1.4"/>
<!-- washer -->
<path d="M632.5,88.8 C632.5,87 635.3,85.5 638.8,85.5 C642.3,85.5 645,87 645,88.8 C645,90.6 642.3,92.1 638.8,92.1 C635.3,92.1 632.5,90.6 632.5,88.8 Z"/>
<ellipse cx="638.2" cy="88.3" rx="2" ry="0.8" class="sh" stroke-width="0.8"/>
<!-- breaker arm -->
<path d="M614,123 L613,117 C615,112 619,108 623,106 C626,101 630,98 635,97 C641,96.5 646,99 648,103 L649,106 L655,106 L657,104 C656,102.5 657,101 659,102 C661,101 663,103 662,104 L667,105 C670,106 671,108 670,109.5 L666,110.5 C660,110 654,111 648,111.5 L642,114 L634,117 L628,119 L620,122.5 Z"/>
<path d="M613.5,118 C616,116 620,114 625,113.5 L634,110 C640,108 646,108 648,111.5" stroke-width="1.1"/>
<path d="M614,118 L614.5,124 L618,121.5 L617.5,117 Z M620,115.5 L621,121 L624,119.5 L624,114 Z" class="sh" stroke-width="0.9"/>
<path d="M623,107 C627,104 631,102 636,102 L634,107 C630,108 626,110 623,111 Z" class="sh" stroke="none"/>
<ellipse cx="639.5" cy="103" rx="4.5" ry="3" stroke-width="1.1"/>
<path d="M637,102.5 L639,104 L641.5,102" stroke-width="0.9"/>
<ellipse cx="629" cy="112.5" rx="1.6" ry="2" stroke-width="1"/>
<ellipse cx="637" cy="114" rx="1.8" ry="1.5" stroke-width="1"/>
<path d="M660,104 L660,107.5 M663.5,105 L665,108" stroke-width="0.9"/>
<!-- washer 2 -->
<path d="M635,125 C635,123 637.8,121.5 641.3,121.5 C644.8,121.5 647.5,123 647.5,125 C647.5,127 644.8,128.5 641.3,128.5 C637.8,128.5 635,127 635,125 Z"/>
<ellipse cx="640.8" cy="124.6" rx="2.2" ry="0.9" class="sh" stroke-width="0.8"/>
<!-- screw -->
<path d="M623,130.5 C623,126 632.6,126 632.6,130.5 L632.6,133 C632.6,134 631,134.5 630.5,134.5 L630.5,140.5 C629.5,141.5 626.8,141.5 625.8,140.5 L625.8,134.5 C624.5,134.5 623,134 623,133 Z"/>
<path d="M624.5,129.5 L631,129.5 M626.5,136.5 h3.5 M626.5,138.5 h3.5" stroke-width="0.9"/>
<path d="M628.5,130 L628.5,134 L631.5,133 L631.5,130 Z" class="sh" stroke="none"/>
<!-- lock washer -->
<ellipse cx="629.3" cy="150.4" rx="4.8" ry="3" stroke-width="1.5"/>
<path d="M627,150 C628,148.5 631,149 630.5,150.5 C630,151.5 628,151.5 627.5,151" stroke-width="1"/>
<!-- washer -->
<ellipse cx="630" cy="161.7" rx="5.5" ry="3.4" stroke-width="1.5"/>
<ellipse cx="629.8" cy="161.5" rx="1.8" ry="0.9" class="sh" stroke-width="0.8"/>
<!-- round disc tilted -->
<ellipse cx="604.8" cy="160" rx="5.4" ry="7.6" transform="rotate(18 604.8 160)"/>
<ellipse cx="606" cy="160.5" rx="2.4" ry="3.8" class="sh" stroke-width="0.9" transform="rotate(18 606 160.5)"/>
<ellipse cx="605.5" cy="160.5" rx="1.2" ry="1.8" stroke-width="0.8"/>
<!-- bracket -->
<path d="M613,183 L613,173 C613,170.5 618.5,170 619,172.5 L619.5,181 L622,180 L639,168 L641,165 C643,163.5 648,163.5 650,165 C651.5,167 651,171 650,174 L647,177 L640,181.5 L630,184 L624,186.5 L617,187.5 Z"/>
<path d="M613,183 L617,185 L624,184 L630,182 L638,179 L646,175" stroke-width="1"/>
<path d="M614,174 L614,182.5 L617,183 L617.5,174 Z" class="sh" stroke="none"/>
<ellipse cx="645" cy="169" rx="1.8" ry="2.6" stroke-width="1"/>
<path d="M629,180 L632,178.5 L634,181 M625,183 L626,181" stroke-width="0.9"/>
<!-- upper breaker plate -->
<path d="M597.5,204 L602.5,202 L605,199 L611,197 L614.5,195.5 C620,194 628,193.5 634,194 C647,195 657,201 657,210.5 C657,220.5 642,228 624,228 C606,228 591,221 591,211.5 C591,208 593,205.5 597.5,204 Z"/>
<path d="M591.5,213.5 C594,221 607,226 624,226 C641,226 654,220 656.5,213" stroke-width="1"/>
<path d="M612,209 C612,205.5 617.3,203 623.8,203 C630.3,203 635.6,205.5 635.6,209 C635.6,212.5 630.3,215 623.8,215 C617.3,215 612,212.5 612,209 Z"/>
<path d="M612.3,208.5 C613,205.5 617.5,203.3 623.8,203.3 L621,209 C617,209 614,210 612.5,211.5 Z" class="sh" stroke="none"/>
<path d="M636,216.5 L640,215 L641.5,218.5 L637.5,220 Z" class="sh" stroke-width="0.9"/>
<ellipse cx="603" cy="219.5" rx="1.6" ry="1" stroke-width="0.9" fill="#bbb"/>
<ellipse cx="620" cy="199.5" rx="1.3" ry="0.8" stroke-width="0.8" fill="#bbb"/>
<ellipse cx="612" cy="203" rx="1.2" ry="0.8" stroke-width="0.8" fill="#bbb"/>
<ellipse cx="634" cy="219" rx="1.3" ry="0.9" stroke-width="0.8"/>
<path d="M625.5,221.5 L629,221.5 L627,223.5 Z" stroke-width="0.8"/>
<path d="M640,225 L641.5,230 L644,229 L643.5,224" class="sh" stroke-width="0.9"/>
<ellipse cx="648" cy="211" rx="1" ry="0.7" stroke-width="0.8"/>
<!-- stud -->
<path d="M642.6,191 L642.6,206 C642.6,208.5 649,208.5 649,206 L649,191 C649,187.5 642.6,187.5 642.6,191 Z"/>
<path d="M643.5,194 h5 M643.5,196 h5 M643.5,198 h5" stroke-width="0.8"/>
<path d="M646,191 L646,206 L648.5,205.5 L648.5,191 Z" class="sh" stroke="none"/>
<ellipse cx="645.8" cy="207.3" rx="4.5" ry="1.8" stroke-width="1.1"/>
<!-- lower plate -->
<path d="M593.5,261 C593.5,251 609,243.5 628,243.5 C647,243.5 662.5,251 662.5,261 C662.5,271 647,279 628,279 C609,279 593.5,271 593.5,261 Z"/>
<path d="M594,263.5 C597,271.5 611,276.5 628,276.5 C645,276.5 659,271.5 662,263.5" stroke-width="1"/>
<!-- tab upper-left -->
<path d="M599.3,238.5 C599.3,236.5 602,235.5 605,235 L617,232.8 C620,232.5 621.5,234 621.5,237 L621.5,244 C620,248 612,250 606,251 L599.5,252.5 Z"/>
<path d="M611,237 L617.5,234 C619.5,234 620.5,235 620.5,237 L620.5,244 C618,247 612,248.5 606,250 Z" class="sh" stroke="none"/>
<ellipse cx="603.5" cy="243.5" rx="1.2" ry="1.7" stroke-width="0.9"/>
<ellipse cx="614.6" cy="242.2" rx="0.8" ry="0.8" stroke-width="0.7" fill="#eee"/>
<!-- slot -->
<path d="M602,255 L611,251.5 L612,253 L603,256.5 Z" class="sh" stroke-width="0.9"/>
<!-- collar -->
<path d="M614.4,254.5 L615,262 C617,266.5 636,266.5 639.5,261.5 L640,254.5 Z"/>
<path d="M631,258.5 L631,265.5 C635,264.5 638.5,263.5 639.5,261.5 L640,254.5 Z" class="sh" stroke="none"/>
<ellipse cx="627.2" cy="254.5" rx="12.8" ry="5.8"/>
<ellipse cx="627.2" cy="255" rx="9.8" ry="4" class="sh" stroke-width="1"/>
<path d="M627.2,251 L627.2,259 C632,259 636,257 637,255 C636,252.5 632,251 627.2,251 Z" fill="#f3f3f3" stroke="none"/>
<!-- front bracket -->
<path d="M600.8,261 L603,259.5 C607,260 615,262 621,264 C624,265 624,267 624,269 L624,276 L621,276.5 L620.5,268.5 L602,264.5 L602,272 L600,271.5 Z"/>
<path d="M622,271 L628,266 L630,270 L624.5,275 Z" class="sh" stroke="none"/>
<ellipse cx="616.5" cy="268" rx="1" ry="1" stroke-width="0.8" fill="#bbb"/>
<!-- right post -->
<path d="M646.5,264 C646.5,259 650,257 652.5,257.5 C655,258 655.5,261 655,265 L654,269 L647,270 Z"/>
<path d="M650.5,258 C652.5,258 654.5,260 654.5,263 L654,268 L651,268.5 Z" class="sh" stroke="none"/>
<ellipse cx="651" cy="263.3" rx="1.4" ry="2" stroke-width="0.9"/>
<!-- small clip left -->
<path d="M582.5,277.5 C582.5,276 585,275.5 586.5,276.5 L590,279.5 L594.5,278.5 L596,280 L592.5,281.5 L593.5,285 L592,285.5 L589.5,282 L585,280.5 C583,280 582.5,279 582.5,277.5 Z" stroke-width="1.3"/>
<!-- small button -->
<path d="M594.8,298.5 C594.8,296.5 600.3,296.5 600.3,298.5 L599.8,302 C599,304 596,304 595.3,302 Z"/>
<path d="M595.5,300 h4" stroke-width="0.8"/>
<!-- gasket -->
<path d="M603,290 C603,288 606,286 609,285 L613.5,283.5 C620,283.5 630,285 638,286 L645,287 C648,288 650,291 651.5,294 C653,297 656,299 659,301 C660,303 659,304.5 657,305.5 L649,309.5 C645,309 640,307 635,306 L620,305 C617,304 614,300 611,297 C608,294.5 604,293 603,290 Z"/>
<path d="M603.5,291.5 C606,294.5 609,296 612,299 C615,302 617.5,306 620.5,307 L635,308 C640,309 645,311 649,311.5 L659,306" stroke-width="1"/>
<path d="M618.5,291.5 C619,289.5 622,289 626,289.5 L641,291 C643.5,292 645,294.5 645,297 C645,300 643,302 640,302 L625,300.5 C622,299.5 620,296 618.5,294 Z"/>
<path d="M611,287.5 L615,286.5 M651,303 L655,301" stroke-width="1.5"/>
<path d="M642,289 L645,290" stroke-width="1"/>
</g>

</svg>
<div class="copy">© Alfa Delta Store</div>
</body></html>
